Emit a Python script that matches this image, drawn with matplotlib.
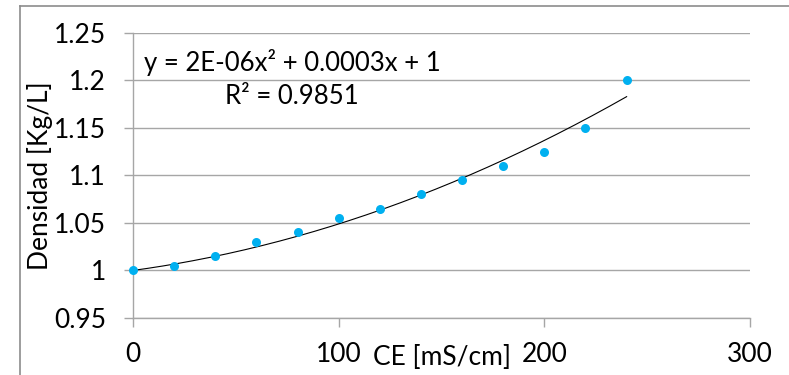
import numpy as np
import matplotlib
matplotlib.use("Agg")
from matplotlib import pyplot as plt
from matplotlib.lines import Line2D

# data
ce = [0, 20, 40, 60, 80, 100, 120, 140, 160, 180, 200, 220, 240]
densidad = [1.000, 1.005, 1.015, 1.030, 1.040, 1.055, 1.065,
            1.080, 1.095, 1.110, 1.125, 1.150, 1.200]
x_ticks = [0, 100, 200, 300]
y_ticks = [0.95, 1.0, 1.05, 1.1, 1.15, 1.2, 1.25]
y_tick_labels = ["0.95", "1", "1.05", "1.1", "1.15", "1.2", "1.25"]
intercept = 1.0  # trendline intercept fixed as in the chart

GRID = "#a6a6a6"
POINT = "#00b0f0"

plt.rcParams["font.family"] = ["Lato", "DejaVu Sans"]

fig = plt.figure(figsize=(7.89, 3.75), dpi=100)
ax = fig.add_axes([0.1686, 0.152, 0.782, 0.761])

# order-2 trendline with fixed intercept, least squares on the points
x = np.array(ce, dtype=float)
y = np.array(densidad) - intercept
A = np.column_stack([x ** 2, x])
a, b = np.linalg.lstsq(A, y, rcond=None)[0]
xs = np.linspace(x.min(), x.max(), 200)
ax.plot(xs, a * xs ** 2 + b * xs + intercept, color="black", lw=0.8,
        zorder=2)

ax.plot(ce, densidad, "o", color=POINT, ms=6.5, mec="none", zorder=3,
        clip_on=False)

ax.set_xlim(0, 300)
ax.set_ylim(0.95, 1.25)
ax.set_xticks(x_ticks)
ax.set_yticks(y_ticks)
ax.set_yticklabels(y_tick_labels)

for s in ["top", "right"]:
    ax.spines[s].set_visible(False)
for s in ["left", "bottom"]:
    ax.spines[s].set_color(GRID)
    ax.spines[s].set_linewidth(1)

ax.yaxis.grid(True, color=GRID, lw=1)
ax.set_axisbelow(True)
ax.tick_params(axis="both", colors=GRID, length=6.5, width=1,
               labelcolor="black", labelsize=19)
ax.tick_params(axis="x", pad=11)
ax.tick_params(axis="y", pad=13)

ax.set_ylabel("Densidad [Kg/L]", fontsize=19)
ax.yaxis.set_label_coords(-0.130, 0.5)
ax.set_xlabel("CE [mS/cm]", fontsize=19, va="center")
ax.xaxis.set_label_coords(0.5, -0.14)

ax.text(0.258, 0.838, "y = 2E-06x² + 0.0003x + 1\nR² = 0.9851",
        transform=ax.transAxes, ha="center", va="center",
        multialignment="center", fontsize=18.5, linespacing=1.42)

# outer chart frame
fx, fy = 20 / 789, 1 - 6 / 375
fig.add_artist(Line2D([fx, fx], [0, fy], color="#8c8c8c", lw=1.2))
fig.add_artist(Line2D([fx, 1], [fy, fy], color="#8c8c8c", lw=1.2))

fig.savefig("out.png", dpi=100)
